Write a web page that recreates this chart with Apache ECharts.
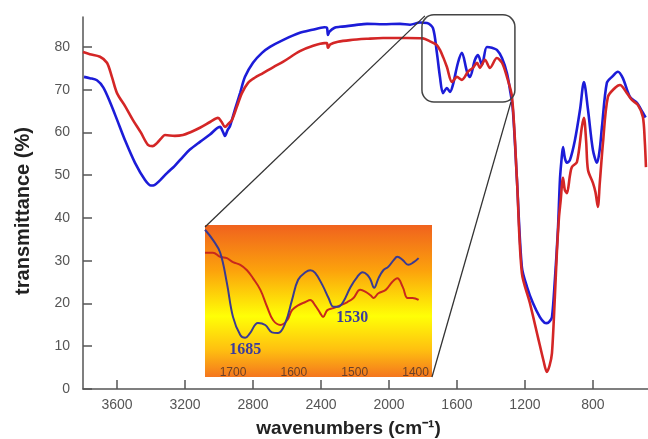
<!DOCTYPE html>
<html>
<head>
<meta charset="utf-8">
<script src="https://cdn.jsdelivr.net/npm/echarts@6/dist/echarts.min.js"></script>
<style>html,body{margin:0;padding:0;background:#fff}#c{width:648px;height:439px}</style>
</head>
<body>
<div id="c"></div>
<script>
// ---- data: [wavenumber cm-1, transmittance %] ----
const blueSpectrum = [[3794,73.0],[3760,72.7],[3718,72.2],[3680,70.5],[3640,67.0],[3600,63.0],[3553,58.2],[3494,52.9],[3435,48.9],[3400,47.6],[3380,47.7],[3347,48.8],[3306,50.5],[3260,52.2],[3212,54.3],[3171,56.0],[3112,57.8],[3053,59.5],[3012,61.0],[2994,61.3],[2975,60.0],[2965,59.2],[2950,60.5],[2935,61.5],[2905,65.5],[2876,69.2],[2847,73.0],[2800,76.3],[2747,78.6],[2700,80.0],[2624,81.6],[2524,83.3],[2450,84.0],[2380,84.6],[2365,84.5],[2359,82.8],[2350,83.6],[2320,84.5],[2288,84.7],[2200,85.1],[2129,85.4],[2035,85.3],[1935,85.4],[1876,85.2],[1818,85.7],[1776,85.6],[1741,84.4],[1718,78.6],[1700,73.0],[1682,69.2],[1659,70.4],[1641,69.5],[1624,71.1],[1594,76.3],[1571,78.6],[1541,74.2],[1524,73.0],[1494,77.0],[1476,78.1],[1453,75.8],[1424,80.0],[1394,79.8],[1365,79.3],[1335,77.4],[1306,73.9],[1288,70.0],[1271,65.3],[1247,48.9],[1218,28.5],[1188,23.9],[1153,20.1],[1112,16.8],[1085,15.5],[1071,15.4],[1055,15.8],[1041,16.8],[1024,25.5],[1006,37.2],[994,49.0],[985,53.5],[976,56.6],[965,54.0],[953,52.9],[935,53.6],[906,58.2],[876,65.3],[853,71.8],[829,65.3],[800,55.9],[776,52.9],[760,56.0],[747,61.3],[718,71.6],[688,73.0],[653,74.2],[624,72.7],[582,68.3],[541,66.9],[506,64.6],[490,63.5]];
const redSpectrum = [[3800,78.8],[3760,78.3],[3700,77.7],[3659,76.3],[3630,73.0],[3600,69.2],[3550,66.0],[3506,62.9],[3460,60.0],[3418,57.1],[3390,56.8],[3365,57.5],[3340,58.6],[3318,59.4],[3260,59.2],[3212,59.4],[3171,60.0],[3112,61.1],[3050,62.5],[3006,63.4],[2985,62.5],[2965,61.3],[2945,62.0],[2924,62.9],[2895,66.0],[2865,69.2],[2829,71.6],[2790,72.8],[2741,73.9],[2680,75.3],[2624,76.5],[2524,79.0],[2450,80.2],[2380,80.9],[2365,80.9],[2359,79.8],[2345,80.6],[2300,81.2],[2229,81.6],[2130,81.9],[2035,82.1],[1900,82.1],[1800,82.0],[1759,81.3],[1720,80.5],[1700,79.3],[1680,77.5],[1659,75.3],[1629,71.8],[1600,73.0],[1571,72.3],[1535,74.2],[1506,75.1],[1482,76.3],[1465,75.1],[1435,77.0],[1406,75.1],[1365,77.4],[1335,76.3],[1306,73.0],[1276,68.3],[1247,48.9],[1218,27.1],[1171,20.1],[1124,12.2],[1090,6.5],[1071,4.0],[1055,5.5],[1041,8.4],[1024,21.5],[1012,32.0],[1000,40.0],[990,44.0],[976,49.4],[965,46.5],[953,45.8],[935,50.0],[924,51.9],[894,53.1],[865,61.3],[853,63.4],[840,58.0],[829,51.2],[800,48.2],[785,46.0],[771,42.6],[760,48.0],[741,57.5],[712,68.3],[671,70.4],[641,71.1],[600,69.2],[571,67.6],[535,66.4],[506,63.6],[495,58.0],[488,51.9]];
// inset (zoom of 1750-1370 cm-1)
const insetBlue = [[1746,85.5],[1733,84.0],[1721,82.1],[1710,77.6],[1700,72.6],[1688,69.9],[1680,69.5],[1672,70.2],[1659,71.7],[1647,71.4],[1636,70.3],[1626,70.2],[1614,71.7],[1603,75.1],[1593,78.1],[1581,79.2],[1573,79.5],[1565,79.1],[1553,77.3],[1543,75.4],[1535,74.1],[1527,74.1],[1519,74.8],[1507,77.0],[1496,78.5],[1487,79.2],[1479,78.8],[1474,78.1],[1468,76.9],[1461,78.3],[1453,79.5],[1445,80.0],[1436,81.0],[1430,81.5],[1421,81.0],[1412,80.3],[1403,80.7],[1395,81.3]];
const insetRed = [[1746,82.1],[1733,82.1],[1721,81.5],[1710,81.3],[1700,80.7],[1688,80.3],[1677,79.5],[1667,78.3],[1655,76.6],[1644,74.1],[1634,72.1],[1622,71.4],[1611,72.1],[1603,73.6],[1593,74.3],[1581,74.8],[1573,75.1],[1565,74.3],[1557,73.2],[1552,72.6],[1545,73.6],[1535,73.9],[1524,74.3],[1512,74.8],[1502,75.4],[1491,76.6],[1482,76.3],[1474,75.8],[1469,75.4],[1461,76.1],[1449,76.6],[1438,77.8],[1430,78.3],[1421,77.0],[1413,75.4],[1405,75.4],[1395,75.1]];
const xTicks = [800,1200,1600,2000,2400,2800,3200,3600];
const yTicks = [0,10,20,30,40,50,60,70,80];
const insetTicks = [1400,1500,1600,1700];
const peakLabels = [{text:'1685', at:[1680,67.7]}, {text:'1530', at:[1504,72.4]}];
const zoomBox = {x:[1806,1259], y:[87.5,67.1]};

const chart = echarts.init(document.getElementById('c'), null, {renderer:'canvas'});
const grad = new echarts.graphic.LinearGradient(0,0,0,1,[
  {offset:0,color:'#f0621e'},{offset:0.3,color:'#fca20c'},{offset:0.6,color:'#ffff06'},{offset:0.82,color:'#ffc010'},{offset:1,color:'#f4761e'}]);
const plain = v => String(v);
const option = {
  animation:false,
  backgroundColor:'#ffffff',
  grid:[
    {left:83, top:17, width:565, height:372, containLabel:false, outerBoundsMode:'none'},
    {left:205, top:225, width:227, height:152, show:true, backgroundColor:grad, borderWidth:0, z:5, containLabel:false, outerBoundsMode:'none'}
  ],
  xAxis:[
    {gridIndex:0, type:'value', inverse:true, min:476, max:3800,
     name:'wavenumbers (cm⁻¹)', nameLocation:'middle', nameGap:30,
     nameTextStyle:{fontFamily:'Liberation Sans', fontWeight:'bold', fontSize:19, color:'#222', padding:[0,34,0,0]},
     axisLine:{lineStyle:{color:'#555', width:1.5}},
     axisTick:{inside:true, length:9, customValues:xTicks, lineStyle:{color:'#555', width:1.5}},
     axisLabel:{customValues:xTicks, margin:9, formatter:plain, fontFamily:'Liberation Sans', fontSize:14, color:'#555'},
     splitLine:{show:false}},
    {gridIndex:1, type:'value', inverse:true, min:1373, max:1746, z:6,
     axisLine:{show:false},
     axisTick:{show:false},
     axisLabel:{inside:true, customValues:insetTicks, margin:-2, formatter:plain, fontFamily:'Liberation Sans', fontSize:12, color:'#6a4028'},
     splitLine:{show:false}}
  ],
  yAxis:[
    {gridIndex:0, type:'value', min:0, max:87,
     name:'transmittance (%)', nameLocation:'middle', nameGap:50, nameRotate:90,
     nameTextStyle:{fontFamily:'Liberation Sans', fontWeight:'bold', fontSize:20, color:'#222', padding:[0,16,0,0]},
     axisLine:{show:true, lineStyle:{color:'#555', width:1.5}},
     axisTick:{show:true, inside:true, length:9, customValues:yTicks, lineStyle:{color:'#555', width:1.5}},
     axisLabel:{customValues:yTicks, margin:13, formatter:plain, fontFamily:'Liberation Sans', fontSize:14, color:'#555'},
     splitLine:{show:false}},
    {gridIndex:1, type:'value', min:63.7, max:86.2, show:false}
  ],
  series:[
    {type:'line', name:'blue', xAxisIndex:0, yAxisIndex:0, data:blueSpectrum, showSymbol:false, smooth:0.3, z:3,
     lineStyle:{color:'#1c1cd8', width:2.6}},
    {type:'line', name:'red', xAxisIndex:0, yAxisIndex:0, data:redSpectrum, showSymbol:false, smooth:0.3, z:4,
     lineStyle:{color:'#d42626', width:2.6}},
    {type:'line', name:'blueInset', xAxisIndex:1, yAxisIndex:1, data:insetBlue, showSymbol:false, smooth:0.4, z:8,
     lineStyle:{color:'#3a3a92', width:2},
     markPoint:{symbol:'circle', symbolSize:1, itemStyle:{color:'rgba(0,0,0,0)'},
       label:{show:true, position:'inside', fontFamily:'Liberation Serif', fontWeight:'bold', fontSize:16, color:'#3c3c9c', formatter:p=>p.name},
       data:peakLabels.map(p=>({name:p.text, coord:p.at}))}},
    {type:'line', name:'redInset', xAxisIndex:1, yAxisIndex:1, data:insetRed, showSymbol:false, smooth:0.4, z:7,
     lineStyle:{color:'#c8281c', width:2}}
  ]
};
chart.setOption(option);

// zoom box and connector lines, positioned from data coordinates
const tl = chart.convertToPixel({gridIndex:0}, [zoomBox.x[0], zoomBox.y[0]]);
const br = chart.convertToPixel({gridIndex:0}, [zoomBox.x[1], zoomBox.y[1]]);
const itl = chart.convertToPixel({gridIndex:1}, [1746, 86.2]);
const ibr = chart.convertToPixel({gridIndex:1}, [1373, 63.7]);
chart.setOption({graphic:[
  {type:'rect', shape:{x:tl[0], y:tl[1], width:br[0]-tl[0], height:br[1]-tl[1], r:12}, style:{fill:'none', stroke:'#444', lineWidth:1.5}, z:10},
  {type:'line', shape:{x1:itl[0], y1:itl[1]+2, x2:tl[0]+3, y2:tl[1]+1}, style:{stroke:'#333', lineWidth:1.3}, z:10},
  {type:'line', shape:{x1:ibr[0], y1:ibr[1], x2:br[0]-4, y2:br[1]}, style:{stroke:'#333', lineWidth:1.3}, z:10}
]});
</script>
</body>
</html>
